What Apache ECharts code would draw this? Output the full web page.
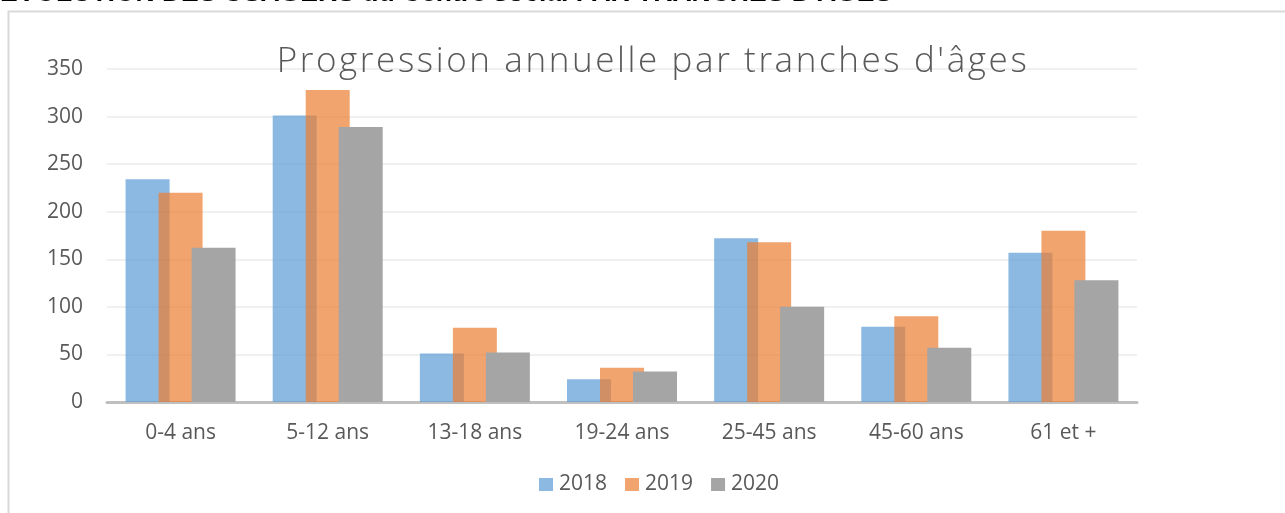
<!DOCTYPE html>
<html>
<head>
<meta charset="utf-8">
<script src="https://cdn.jsdelivr.net/npm/echarts@6/dist/echarts.min.js"></script>
<style>
html,body{margin:0;padding:0;background:#fff;}
#c{width:1285px;height:513px;}
</style>
</head>
<body>
<div id="c"></div>
<script>
const headerText = "ÉVOLUTION DES USAGERS du Centre social PAR TRANCHES D'AGES";
const chartTitle = "Progression annuelle par tranches d'âges";
const categories = ["0-4 ans", "5-12 ans", "13-18 ans", "19-24 ans", "25-45 ans", "45-60 ans", "61 et +"];
const seriesNames = ["2018", "2019", "2020"];
const values2018 = [234, 301, 51, 24, 172, 79, 157];
const values2019 = [220, 328, 78, 36, 168, 90, 180];
const values2020 = [162, 289, 52, 32, 100, 57, 128];
const yTicks = { min: 0, max: 350, interval: 50 };

// Wide letter spacing for the chart title (as in the original Office chart)
(function () {
  const proto = CanvasRenderingContext2D.prototype;
  const orig = proto.fillText;
  proto.fillText = function (t, x, y, m) {
    const wide = /35px/.test(this.font);
    let prev;
    if (wide && 'letterSpacing' in this) { prev = this.letterSpacing; this.letterSpacing = '2.6px'; }
    const r = m === undefined ? orig.call(this, t, x, y) : orig.call(this, t, x, y, m);
    if (wide && 'letterSpacing' in this) { this.letterSpacing = prev; }
    return r;
  };
})();

const chart = echarts.init(document.getElementById('c'), null, {renderer: 'canvas'});
const font = "'Open Sans', sans-serif";
const colors = ['rgba(91,155,213,0.7)', 'rgba(237,125,49,0.7)', '#A5A5A5'];
const legendColors = ['#8CB9E2', '#F2A46F', '#A5A5A5'];
const dataSets = [values2018, values2019, values2020];

chart.setOption({
  animation: false,
  backgroundColor: '#fff',
  title: {
    text: chartTitle,
    left: 648,
    textAlign: 'center',
    top: 40,
    textStyle: { fontFamily: font, fontSize: 35, fontWeight: 300, color: '#595959' }
  },
  graphic: [
    { type: 'rect', shape: { x: 8.5, y: 11.5, width: 1285, height: 510 }, style: { fill: 'none', stroke: '#D9D9D9', lineWidth: 2 }, silent: true, z: -1 },
    { type: 'text', x: 0, y: 7, style: { text: headerText, font: "bold 26.5px 'Liberation Sans', sans-serif", fill: '#000', textVerticalAlign: 'bottom', verticalAlign: 'bottom' } }
  ],
  legend: {
    top: 469,
    left: 534,
    itemWidth: 14,
    itemHeight: 13,
    itemGap: 18,
    icon: 'rect',
    textStyle: { fontFamily: font, fontSize: 21, color: '#595959', padding: [0, 0, 0, 1] },
    data: seriesNames.map((n, i) => ({ name: n, itemStyle: { color: legendColors[i] } }))
  },
  grid: { left: 107, right: 148, top: 69, bottom: 111 },
  xAxis: {
    type: 'category',
    data: categories,
    axisLine: { lineStyle: { color: '#BFBFBF', width: 3 } },
    axisTick: { show: false },
    axisLabel: { fontFamily: font, fontSize: 21, color: '#595959', margin: 21 }
  },
  yAxis: {
    type: 'value',
    min: yTicks.min, max: yTicks.max, interval: yTicks.interval,
    axisLine: { show: false },
    axisTick: { show: false },
    axisLabel: { fontFamily: font, fontSize: 21, color: '#595959', margin: 24 },
    splitLine: { lineStyle: { color: '#F0F0F0', width: 2 } }
  },
  series: seriesNames.map((n, i) => ({
    name: n,
    type: 'bar',
    data: dataSets[i],
    barWidth: 44,
    barGap: '-25%',
    itemStyle: { color: colors[i] }
  }))
});
</script>
</body>
</html>
